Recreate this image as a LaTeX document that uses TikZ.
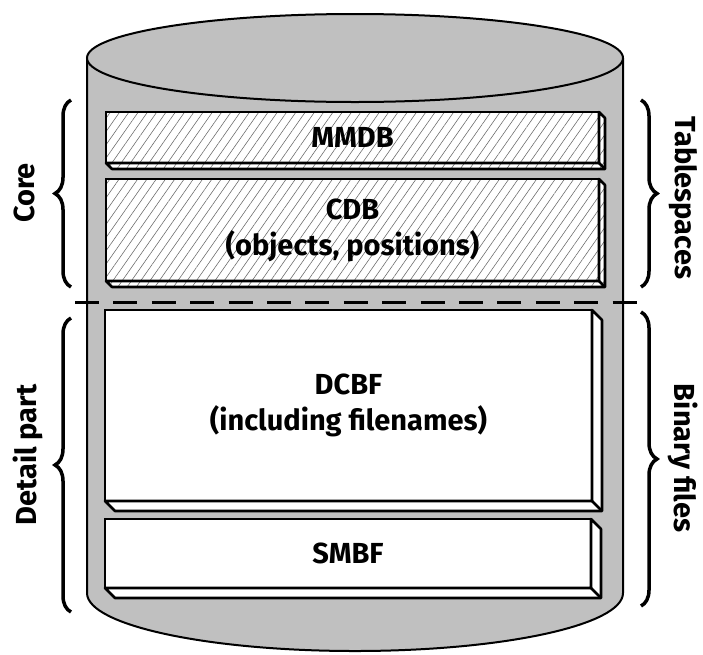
\documentclass[tikz,border=0pt]{standalone}
\usepackage{fontspec}
\setmainfont{Fira Sans}
\usetikzlibrary{positioning, patterns.meta, decorations.pathreplacing}
\definecolor{drumgray}{HTML}{C0C0C0}

\tikzset{
  hatch/.style={preaction={fill=white}, pattern={Lines[angle=55, distance=7.6pt, line width=0.55pt]}, pattern color=black!60},
  slab/.style={draw, line width=2.6pt, outer sep=0pt, inner sep=0pt, align=center,
    font=\fontsize{29}{36}\selectfont\bfseries},
  tspace/.style={slab, hatch},
  binfile/.style={slab, fill=white},
  sidelabel/.style={inner sep=0pt, font=\fontsize{29}{36}\selectfont\bfseries},
  sidebrace/.style={decorate, decoration={brace, amplitude=16pt}, line width=3.5pt},
}

% bevelled edge to the right of and below a slab
\newcommand{\slabedge}[3]{%
  \draw[line width=2.6pt, line join=round, #3] (#1.north east) -- ++(#2,#2)
    -- ([shift={(#2,#2)}]#1.south east) -- ([shift={(#2,#2)}]#1.south west)
    -- (#1.south west) -- (#1.south east) -- cycle;
  \draw[line width=2.6pt] (#1.south east) -- ++(#2,#2);
}

\begin{document}
\begin{tikzpicture}[x=1pt, y=-1pt]
    \useasboundingbox (0,0) rectangle (703,654);

    % the drum
    \draw[fill=drumgray, line width=2pt] (87,58) -- (87,593)
        arc[start angle=180, end angle=0, x radius=268, y radius=58] -- (623,58);
    \draw[fill=drumgray, line width=2pt] (355,58) ellipse[x radius=268, y radius=44];

    % tablespaces
    \node[tspace, minimum width=493pt, minimum height=51pt] (mmdb) at (352.5,137.5) {MMDB};
    \slabedge{mmdb}{6}{hatch}
    \node[tspace, minimum width=493pt, minimum height=102pt] (cdb) at (352.5,230) {CDB\\(objects, positions)};
    \slabedge{cdb}{6}{hatch}

    % binary files
    \node[binfile, minimum width=487pt, minimum height=191pt] (dcbf) at (348.5,405.5) {DCBF\\(including filenames)};
    \slabedge{dcbf}{10}{fill=white}
    \node[binfile, minimum width=486pt, minimum height=69pt] (smbf) at (348,553.5) {SMBF};
    \slabedge{smbf}{10}{fill=white}

    % split between core and detail part
    \coordinate (cutL) at (75,302);
    \coordinate (cutR) at (637,302);
    \draw[line width=3pt, dash pattern=on 24pt off 14.4pt] (cutL) -- (cutR);

    % braces and their labels
    \draw[sidebrace] (71,287) -- (71,100);
    \draw[sidebrace] (71,612) -- (71,318);
    \draw[sidebrace] (641,100) -- (641,287);
    \draw[sidebrace] (641,312) -- (641,606);

    \node[sidelabel, rotate=90] (core) at (24,193) {Core};
    \node[sidelabel, rotate=90] (detail) at (27.5,455) {Detail part};
    \node[sidelabel, rotate=-90] (tspc) at (683.5,198) {Tablespaces};
    \node[sidelabel, rotate=-90] (binf) at (683.5,458) {Binary files};
\end{tikzpicture}
\end{document}
